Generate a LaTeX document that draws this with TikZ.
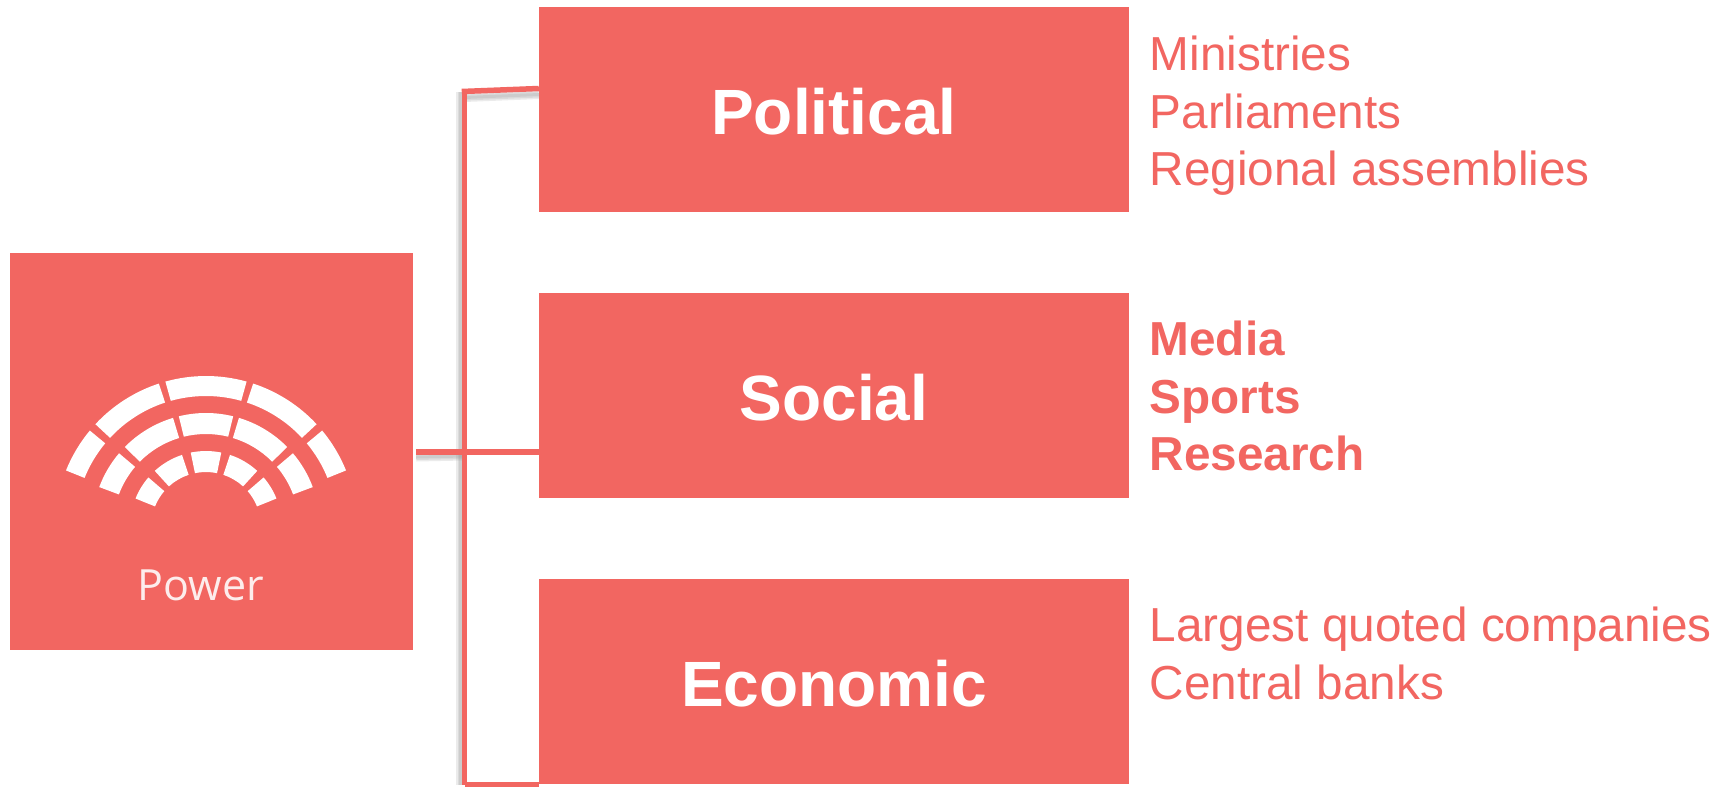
\documentclass[tikz,border=0pt]{standalone}
\usepackage{fontspec}
\setmainfont{Liberation Sans}
\newfontfamily\powerfont{Open Sans}
\definecolor{coral}{HTML}{F26661}
\newcommand{\seatseg}[4]{\fill[white] (#3:#1pt) arc[start angle=#3,end angle=#4,radius=#1pt] -- (#4:#2pt) arc[start angle=#4,end angle=#3,radius=#2pt] -- cycle;}
\tikzset{
 catbox/.style={fill=coral,minimum width=590pt,minimum height=205pt,inner sep=0pt,text=white,
   font=\fontsize{64}{64}\selectfont\bfseries,text height=50pt,text depth=0pt},
 listtext/.style={text=coral,anchor=north west,inner sep=0pt,align=left,
   font=\fontsize{47.7}{57.4}\selectfont},
 link/.style={draw=coral,line width=5.5pt},
 linkshadow/.style={draw=black!45,opacity=.17,line width=#1}
}
\begin{document}
\begin{tikzpicture}[x=1pt,y=-1pt]
\useasboundingbox[fill=white] (0,0) rectangle (1731,787);
\node[fill=coral,minimum width=403pt,minimum height=397pt,inner sep=0pt] (power) at (211.5,451.5) {};
\node[catbox] (political) at (834,109.5) {Political};
\node[catbox] (social) at (834,395) {Social};
\node[catbox] (economic) at (834,681) {Economic};
\coordinate (jtop) at (464.5,91.5);
\coordinate (jbot) at (464.5,784.5);
\coordinate (jmid) at (464.5,451);
\coordinate (pstart) at ([xshift=3pt,yshift=-0.5pt]power.east);
\coordinate (ptop) at (political.west |- 0,88.5);
% shadows
\foreach \w in {9pt,6pt,3pt}{
 \draw[linkshadow=\w] ([xshift=-4pt]jtop) -- ([xshift=-4pt]jbot);
 \draw[linkshadow=\w] ([yshift=-6pt]jtop) -- ([yshift=-6pt]ptop);
 \draw[linkshadow=\w] ([yshift=-5pt]pstart) -- ([yshift=-5pt]jmid);
}
\draw[link] (jtop) -- (jbot);
\draw[link] ([xshift=-2.75pt]jtop) -- (ptop);
\draw[link] (pstart) -- (social.west |- pstart);
\draw[link] (jbot) -- (economic.south west |- jbot);
\begin{scope}[shift={(206,527)},y=1pt,x=1pt]
\foreach \ra/\rb/\a/\b in {
 151/131/22/39.7, 151/131/42.9/71.8, 151/131/74.4/105.6, 151/131/108.2/137.1, 151/131/140.3/158,
 114/93/20.5/40.3, 114/93/44.6/73.2, 114/93/76.2/103.8, 114/93/106.8/135.4, 114/93/139.7/159.5,
 76/55/22/40.7, 76/55/47.6/71.6, 76/55/78.4/101.6, 76/55/108.4/132.4, 76/55/139.3/158}{
 \seatseg{\ra}{\rb}{\a}{\b}
}
\end{scope}
\node[text=white!88!coral,inner sep=0pt,anchor=base,font=\powerfont\fontsize{43}{43}\selectfont] (powerlabel) at (201,600) {Power};
\node[listtext] (l1) at (1149.5,36) {Ministries\\Parliaments\\Regional assemblies};
\node[listtext,font=\fontsize{47.7}{57.4}\selectfont\bfseries] (l2) at (1149.5,321) {Media\\Sports\\Research};
\node[listtext] (l3) at (1149.5,607) {Largest quoted companies\\Central banks};
\end{tikzpicture}
\end{document}
